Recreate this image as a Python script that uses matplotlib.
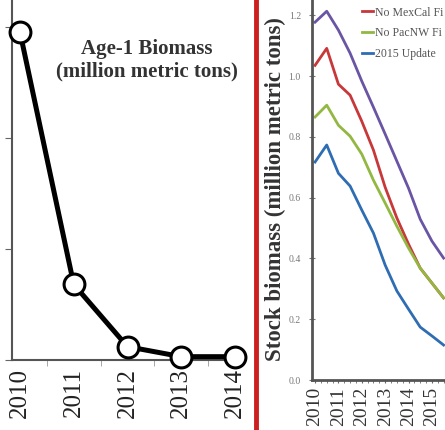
import numpy as np
import matplotlib
matplotlib.use("Agg")
import matplotlib.pyplot as plt
from matplotlib.lines import Line2D

plt.rcParams['font.family'] = ['Liberation Serif', 'DejaVu Serif']

# Panel izquierdo: biomasa edad 1
anios_edad1 = ['2010', '2011', '2012', '2013', '2014']
biomasa_edad1 = [2.95, 0.68, 0.12, 0.03, 0.03]

# Panel derecho: biomasa del stock (datos semestrales)
semestres = [2010.0, 2010.5, 2011.0, 2011.5, 2012.0, 2012.5,
             2013.0, 2013.5, 2014.0, 2014.5, 2015.0, 2015.5]
sin_pesca = [1.177, 1.213, 1.151, 1.075, 0.983, 0.897,
             0.809, 0.720, 0.631, 0.529, 0.457, 0.401]
sin_mexcal = [1.035, 1.091, 0.973, 0.937, 0.851, 0.756,
              0.634, 0.533, 0.447, 0.368, 0.319, 0.270]
sin_pacnw = [0.865, 0.904, 0.838, 0.802, 0.743, 0.657,
             0.582, 0.506, 0.434, 0.368, 0.319, 0.270]
update_2015 = [0.717, 0.773, 0.680, 0.638, 0.559, 0.483,
               0.378, 0.293, 0.233, 0.174, 0.145, 0.115]
etiquetas_x = ['2010', '2011', '2012', '2013', '2014', '2015']
# la leyenda del original esta recortada en el borde
etiquetas_leyenda = ['No MexCal Fi', 'No PacNW Fi', '2015 Update']

fig = plt.figure(figsize=(4.45, 4.30), dpi=100)

## ------- Panel izquierdo ------- ##
ax1 = fig.add_axes([12/445, 70/430, 233/445, 360/430])
pos = np.arange(len(anios_edad1))
ax1.plot(pos, biomasa_edad1, color='black', lw=3.6, marker='o', ms=15,
         mfc='white', mec='black', mew=2.2, clip_on=False, zorder=3)
ax1.set_xlim(-0.149, 4.186)
ax1.set_ylim(0, 3.24)
ax1.set_yticks([0, 1, 2, 3])
ax1.set_yticklabels([])
ax1.set_xticks(pos)
ax1.set_xticklabels(anios_edad1, rotation=90, fontsize=18, color='#222222')
ax1.tick_params(axis='x', which='major', length=0, pad=6)
ax1.set_xticks(pos[:-1] + 0.5, minor=True)
ax1.tick_params(axis='x', which='minor', length=4, color='#999999', direction='out')
ax1.tick_params(axis='y', length=5, color='#666666', direction='out')
for lado in ['top', 'right']:
    ax1.spines[lado].set_visible(False)
for lado in ['left', 'bottom']:
    ax1.spines[lado].set_color('#555555')
    ax1.spines[lado].set_linewidth(1.5)
ax1.text(0.58, 0.833, 'Age-1 Biomass\n(million metric tons)', transform=ax1.transAxes,
         ha='center', va='center', fontsize=15, fontweight='bold', color='#333333',
         linespacing=1.2)

## ------- Panel derecho ------- ##
ax2 = fig.add_axes([312/445, 50/430, 133/445, 380/430])
ax2.plot(semestres, sin_pesca, color='#6a55a5', lw=2)
ax2.plot(semestres, sin_mexcal, color='#c8383a', lw=2, label=etiquetas_leyenda[0])
ax2.plot(semestres, sin_pacnw, color='#92b842', lw=2, label=etiquetas_leyenda[1])
ax2.plot(semestres, update_2015, color='#2f6db3', lw=2, label=etiquetas_leyenda[2])
ax2.set_xlim(2009.87, 2015.56)
ax2.set_ylim(0, 1.25)
ax2.set_yticks([0.0, 0.2, 0.4, 0.6, 0.8, 1.0, 1.2])
ax2.set_yticklabels(['0.0', '0.2', '0.4', '0.6', '0.8', '1.0', '1.2'])
ax2.tick_params(axis='y', labelsize=7, colors='#777777', length=4, direction='inout', pad=6)
ax2.set_xticks([2010, 2011, 2012, 2013, 2014, 2015])
ax2.set_xticklabels(etiquetas_x, rotation=90, fontsize=14, color='#333333')
ax2.set_xticks(np.arange(2010.25, 2015.6, 0.25), minor=True)
ax2.tick_params(axis='x', which='both', length=2, color='#666666', pad=3)
for lado in ['top', 'right']:
    ax2.spines[lado].set_visible(False)
for lado in ['left', 'bottom']:
    ax2.spines[lado].set_color('#555555')
    ax2.spines[lado].set_linewidth(2)
ax2.legend(loc='upper left', bbox_to_anchor=(0.34, 0.995), frameon=False, fontsize=8.5,
           handlelength=0.9, handletextpad=0.2, labelspacing=0.75, borderaxespad=0)
for t in ax2.get_legend().get_texts():
    t.set_color('#555555')

fig.text(275/445, 0.56, 'Stock biomass (million metric tons)', rotation=90,
         ha='center', va='center', fontsize=16.5, fontweight='bold', color='#333333')

# Linea divisoria roja
fig.add_artist(Line2D([255.5/445, 255.5/445], [0, 1], color='#cc1f1f', lw=3.5))

fig.savefig('out.png', dpi=100, facecolor='white')
